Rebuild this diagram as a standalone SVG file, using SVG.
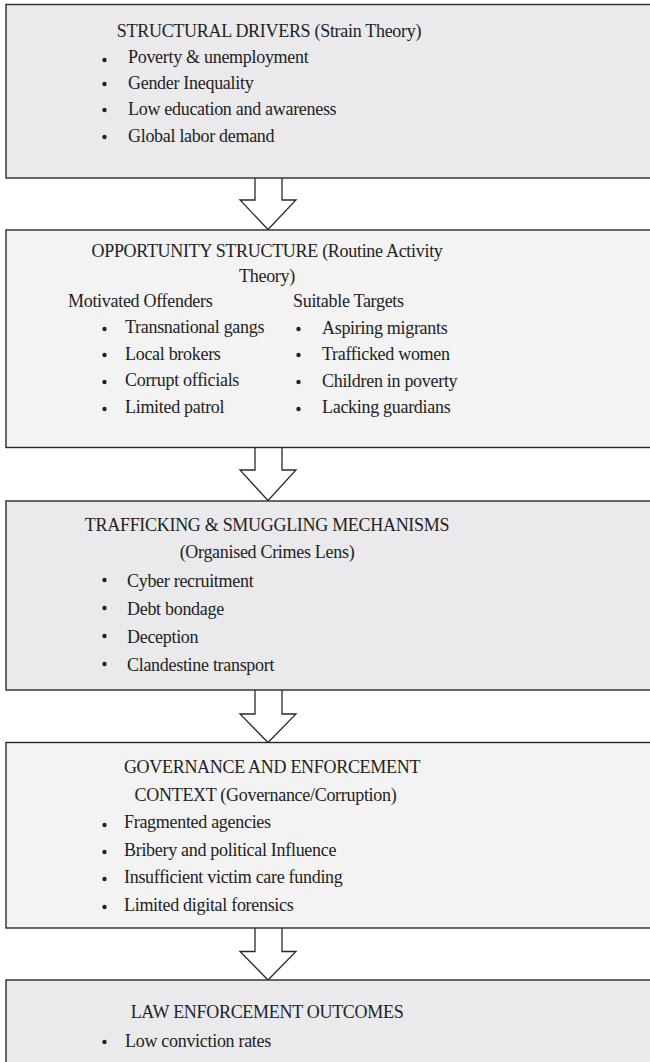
<svg xmlns="http://www.w3.org/2000/svg" width="650" height="1062" viewBox="0 0 650 1062">
<style>
.box{stroke:#2a2a2a;stroke-width:1.4}
.a{fill:#eaeaec}
.b{fill:#f3f3f3}
text{font-family:"Liberation Serif","Times New Roman",serif;font-size:18px;letter-spacing:-0.3px;fill:#222}
.t{text-anchor:middle}
.arrow{fill:#ffffff;stroke:#2a2a2a;stroke-width:1.3}
.dot{fill:#222}
</style>
<rect x="0" y="0" width="650" height="1062" fill="#ffffff"/>
<g id="connectors">
<path class="arrow" d="M255,178 V200 H240 L268,229.5 L296,200 H282 V178"/>
<path class="arrow" d="M255,448 V470 H240 L268,500.5 L296,470 H282 V448"/>
<path class="arrow" d="M255,690 V714 H240 L268,742.5 L296,714 H282 V690"/>
<path class="arrow" d="M255,928 V951.5 H240 L268,980 L296,951.5 H282 V928"/>
</g>
<g id="node1">
<rect class="box a" x="6" y="4.5" width="700" height="173.5"/>
<text class="t" x="269" y="37">STRUCTURAL DRIVERS (Strain Theory)</text>
<circle class="dot" cx="104.5" cy="60" r="2.2"/><text x="128" y="63">Poverty &amp; unemployment</text>
<circle class="dot" cx="104.5" cy="84" r="2.2"/><text x="128" y="89">Gender Inequality</text>
<circle class="dot" cx="104.5" cy="110" r="2.2"/><text x="128" y="115">Low education and awareness</text>
<circle class="dot" cx="104.5" cy="137" r="2.2"/><text x="128" y="141.5">Global labor demand</text>
</g>
<g id="node2">
<rect class="box b" x="6" y="230" width="700" height="217.5"/>
<text class="t" x="267" y="256.5">OPPORTUNITY STRUCTURE (Routine Activity</text>
<text class="t" x="267" y="281.5">Theory)</text>
<text x="68" y="306.5">Motivated Offenders</text>
<text x="293" y="307">Suitable Targets</text>
<circle class="dot" cx="104.5" cy="329" r="2.2"/><text x="125" y="333">Transnational gangs</text>
<circle class="dot" cx="104.5" cy="355" r="2.2"/><text x="125" y="359.5">Local brokers</text>
<circle class="dot" cx="104.5" cy="382" r="2.2"/><text x="125" y="386">Corrupt officials</text>
<circle class="dot" cx="104.5" cy="409" r="2.2"/><text x="125" y="412.5">Limited patrol</text>
<circle class="dot" cx="298.5" cy="329" r="2.2"/><text x="322" y="334">Aspiring migrants</text>
<circle class="dot" cx="298.5" cy="355" r="2.2"/><text x="322" y="360">Trafficked women</text>
<circle class="dot" cx="298.5" cy="382" r="2.2"/><text x="322" y="386.5">Children in poverty</text>
<circle class="dot" cx="298.5" cy="409" r="2.2"/><text x="322" y="413">Lacking guardians</text>
</g>
<g id="node3">
<rect class="box a" x="6" y="501" width="700" height="189"/>
<text class="t" x="267" y="530.5">TRAFFICKING &amp; SMUGGLING MECHANISMS</text>
<text class="t" x="267" y="558">(Organised Crimes Lens)</text>
<circle class="dot" cx="104.5" cy="580" r="2.2"/><text x="127" y="586.5">Cyber recruitment</text>
<circle class="dot" cx="104.5" cy="608" r="2.2"/><text x="127" y="615">Debt bondage</text>
<circle class="dot" cx="104.5" cy="636" r="2.2"/><text x="127" y="642.5">Deception</text>
<circle class="dot" cx="104.5" cy="664" r="2.2"/><text x="127" y="671">Clandestine transport</text>
</g>
<g id="node4">
<rect class="box b" x="6" y="742.5" width="700" height="185.5"/>
<text class="t" x="272" y="773">GOVERNANCE AND ENFORCEMENT</text>
<text class="t" x="265.5" y="800.5">CONTEXT (Governance/Corruption)</text>
<circle class="dot" cx="104.5" cy="825" r="2.2"/><text x="124" y="828">Fragmented agencies</text>
<circle class="dot" cx="104.5" cy="852" r="2.2"/><text x="124" y="856">Bribery and political Influence</text>
<circle class="dot" cx="104.5" cy="879" r="2.2"/><text x="124" y="883">Insufficient victim care funding</text>
<circle class="dot" cx="104.5" cy="907" r="2.2"/><text x="124" y="911">Limited digital forensics</text>
</g>
<g id="node5">
<rect class="box a" x="6" y="980" width="700" height="100"/>
<text class="t" x="267" y="1018">LAW ENFORCEMENT OUTCOMES</text>
<circle class="dot" cx="104.5" cy="1042" r="2.2"/><text x="125" y="1046.5">Low conviction rates</text>
</g>
</svg>
